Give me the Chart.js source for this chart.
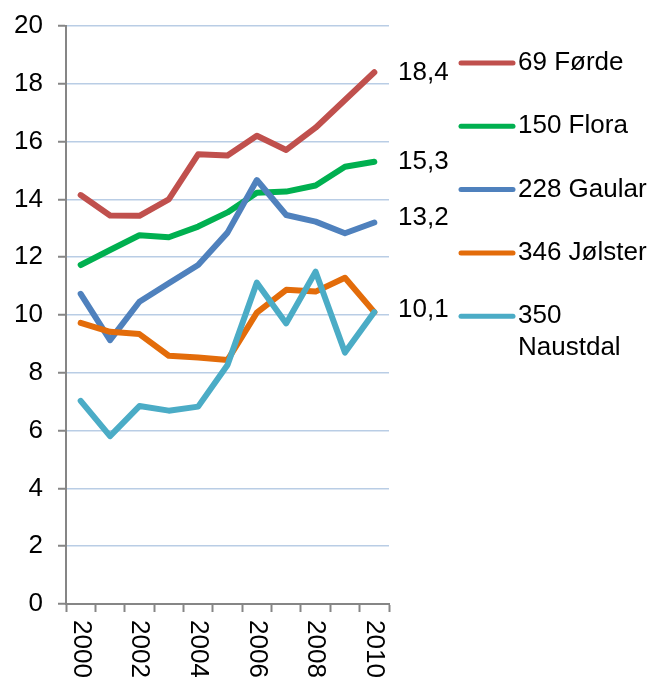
<!DOCTYPE html>
<html>
<head>
    <title>Fødselsoverskot</title>
    <script src="https://cdn.jsdelivr.net/npm/chart.js"></script>
    <style>
        body { margin: 0; background: #fff; }
    </style>
</head>
<body>
    <canvas id="chart" width="652" height="677"></canvas>

    <script>
        // data
        const years = ['2000', '2001', '2002', '2003', '2004', '2005', '2006', '2007', '2008', '2009', '2010'];
        const forde    = [14.15, 13.44, 13.43, 14.0, 15.56, 15.52, 16.2, 15.71, 16.48, 17.44, 18.4];
        const flora    = [11.73, 12.25, 12.76, 12.69, 13.06, 13.55, 14.23, 14.27, 14.48, 15.13, 15.3];
        const gaular   = [10.73, 9.13, 10.46, 11.1, 11.73, 12.85, 14.67, 13.46, 13.23, 12.83, 13.2];
        const jolster  = [9.73, 9.42, 9.34, 8.59, 8.53, 8.44, 10.08, 10.87, 10.81, 11.29, 10.1];
        const naustdal = [7.03, 5.81, 6.85, 6.69, 6.83, 8.27, 11.12, 9.71, 11.5, 8.7, 10.1];
        const seriesNames = [['69 Førde'], ['150 Flora'], ['228 Gaular'], ['346 Jølster'], ['350', 'Naustdal']];
        const endLabels = ['18,4', '15,3', '13,2', null, '10,1'];
        const yTicks = [0, 2, 4, 6, 8, 10, 12, 14, 16, 18, 20];

        const colors = ['#C0504D', '#00B050', '#4F81BD', '#E36C0A', '#4BACC6'];
        const FAMILY = '"Liberation Sans", Arial, sans-serif';
        const FONT = '26px ' + FAMILY;

        const allSeries = [forde, flora, gaular, jolster, naustdal];

        // later series are drawn on top, as in the original
        const datasets = allSeries.map((vals, i) => ({
            label: seriesNames[i].join(' '),
            data: vals,
            borderColor: colors[i],
            backgroundColor: colors[i],
            borderWidth: 6,
            borderCapStyle: 'round',
            borderJoinStyle: 'round',
            pointRadius: 0,
            tension: 0,
            fill: false,
            order: allSeries.length - i,
        }));

        // rotated year labels, end value labels and the legend
        const extras = {
            id: 'extras',
            afterDraw(chart) {
                const c = chart.ctx;
                const xs = chart.scales.x;
                const ys = chart.scales.y;
                const area = chart.chartArea;
                c.save();
                c.font = FONT;
                c.fillStyle = '#000';

                // x labels, every second year, reading downwards
                years.forEach((yr, i) => {
                    if (i % 2) return;
                    c.save();
                    c.translate(xs.getPixelForValue(i), area.bottom + 16);
                    c.rotate(Math.PI / 2);
                    c.textAlign = 'left';
                    c.textBaseline = 'middle';
                    c.fillText(yr, 0, 0);
                    c.restore();
                });

                // value labels at the end of the lines
                c.textAlign = 'left';
                c.textBaseline = 'middle';
                const nudge = [1, 0, -5, 0, -2];
                endLabels.forEach((txt, i) => {
                    if (!txt) return;
                    const vals = allSeries[i];
                    const y = ys.getPixelForValue(vals[vals.length - 1]) + nudge[i];
                    c.fillText(txt, area.right + 9, y);
                });

                // legend
                let ly = 63;
                seriesNames.forEach((lines, i) => {
                    c.strokeStyle = colors[i];
                    c.lineWidth = 5;
                    c.lineCap = 'round';
                    c.beginPath();
                    c.moveTo(461, ly);
                    c.lineTo(513, ly);
                    c.stroke();
                    lines.forEach((t, k) => c.fillText(t, 518, ly + k * 32));
                    ly += 63.3;
                });
                c.restore();
            }
        };

        new Chart(document.getElementById('chart'), {
            type: 'line',
            data: { labels: years, datasets: datasets },
            options: {
                responsive: false,
                animation: false,
                layout: { padding: { top: 26, right: 263, bottom: 0, left: 0 } },
                plugins: {
                    legend: { display: false },
                    tooltip: { enabled: false },
                },
                scales: {
                    x: {
                        offset: true,
                        grid: {
                            offset: true,
                            drawOnChartArea: false,
                            tickLength: 8,
                            tickColor: '#868686',
                            tickWidth: 2,
                        },
                        border: { color: '#868686', width: 2 },
                        ticks: { display: false, autoSkip: false },
                        afterFit(s) { s.height = 73; },
                    },
                    y: {
                        min: 0,
                        max: 20,
                        afterBuildTicks(s) { s.ticks = yTicks.map(v => ({ value: v })); },
                        grid: {
                            color: '#B9CDE5',
                            lineWidth: 1.5,
                            tickLength: 8,
                            tickColor: '#868686',
                            tickWidth: 2,
                        },
                        border: { color: '#868686', width: 2 },
                        ticks: {
                            color: '#000',
                            padding: 15,
                            font: { family: FAMILY, size: 26 },
                        },
                        afterFit(s) {
                            s.width = 66;
                            // the layout padding already leaves room for the top label
                            s.paddingTop = 0;
                            s.paddingBottom = 0;
                        },
                    },
                },
            },
            plugins: [extras],
        });
    </script>
</body>
</html>
